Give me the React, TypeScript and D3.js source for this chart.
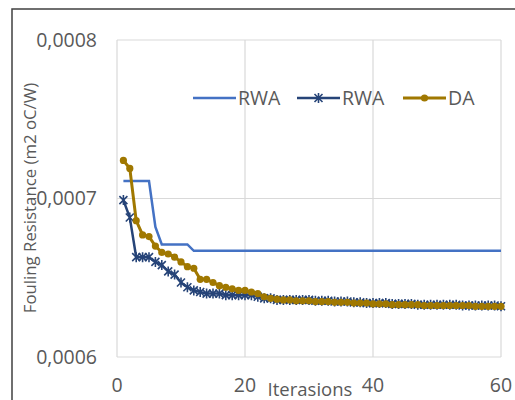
import React, { useEffect, useRef } from 'react';
import * as d3 from 'd3';

// iterations 1..60
const iterations = d3.range(1, 61);

// fouling resistance values, in units of 1e-4 m2 oC/W
const rwaStep = [
  7.11, 7.11, 7.11, 7.11, 7.11, 6.82, 6.71, 6.71, 6.71, 6.71,
  6.71, 6.67, 6.67, 6.67, 6.67, 6.67, 6.67, 6.67, 6.67, 6.67,
  6.67, 6.67, 6.67, 6.67, 6.67, 6.67, 6.67, 6.67, 6.67, 6.67,
  6.67, 6.67, 6.67, 6.67, 6.67, 6.67, 6.67, 6.67, 6.67, 6.67,
  6.67, 6.67, 6.67, 6.67, 6.67, 6.67, 6.67, 6.67, 6.67, 6.67,
  6.67, 6.67, 6.67, 6.67, 6.67, 6.67, 6.67, 6.67, 6.67, 6.67,
];

const rwaStar = [
  6.99, 6.88, 6.63, 6.63, 6.63, 6.60, 6.58, 6.54, 6.52, 6.47,
  6.44, 6.42, 6.41, 6.40, 6.40, 6.40, 6.39, 6.39, 6.39, 6.39,
  6.39, 6.38, 6.37, 6.37, 6.36, 6.36, 6.36, 6.36, 6.36, 6.36,
  6.355, 6.355, 6.355, 6.35, 6.35, 6.35, 6.345, 6.345, 6.34, 6.34,
  6.34, 6.34, 6.335, 6.335, 6.335, 6.335, 6.33, 6.33, 6.33, 6.33,
  6.33, 6.33, 6.33, 6.325, 6.325, 6.325, 6.325, 6.325, 6.325, 6.32,
];

const da = [
  7.24, 7.19, 6.86, 6.77, 6.76, 6.70, 6.66, 6.65, 6.63, 6.60,
  6.57, 6.56, 6.49, 6.49, 6.47, 6.45, 6.44, 6.43, 6.42, 6.42,
  6.41, 6.40, 6.38, 6.37, 6.365, 6.36, 6.36, 6.355, 6.355, 6.355,
  6.35, 6.35, 6.35, 6.345, 6.345, 6.345, 6.34, 6.34, 6.34, 6.335,
  6.335, 6.335, 6.33, 6.33, 6.33, 6.33, 6.33, 6.325, 6.325, 6.325,
  6.325, 6.325, 6.325, 6.325, 6.325, 6.32, 6.32, 6.32, 6.32, 6.32,
];

const xTicks = [0, 20, 40, 60];
const yTicks = [6, 7, 8];
const legendLabels = ['RWA', 'RWA', 'DA'];

const FONT = '"Open Sans", sans-serif';
const TEXT = '#595959';

export default function App() {
  const ref = useRef<SVGSVGElement>(null);

  useEffect(() => {
    const svg = d3.select(ref.current);
    svg.selectAll('*').remove();

    const x = d3.scaleLinear().domain([0, 60]).range([117, 501]);
    const y = d3.scaleLinear().domain([6, 8]).range([357, 40]);

    // chart frame (cropped on the right and bottom)
    svg.append('rect')
      .attr('x', 12).attr('y', 9)
      .attr('width', 540).attr('height', 420)
      .attr('fill', 'white')
      .attr('stroke', '#404040')
      .attr('stroke-width', 1.5);

    // gridlines
    const grid = svg.append('g').attr('stroke', '#d9d9d9').attr('stroke-width', 1.2);
    grid.selectAll('.h').data(yTicks).join('line')
      .attr('x1', x(0)).attr('x2', x(60))
      .attr('y1', d => y(d)).attr('y2', d => y(d));
    grid.selectAll('.v').data(xTicks).join('line')
      .attr('x1', d => x(d)).attr('x2', d => x(d))
      .attr('y1', y(6)).attr('y2', y(8));

    // tick labels
    svg.append('g')
      .style('font-family', FONT).style('font-size', '19.5px').attr('fill', TEXT)
      .selectAll('text').data(yTicks).join('text')
      .attr('x', 97).attr('y', d => y(d))
      .attr('dy', '0.35em')
      .attr('text-anchor', 'end')
      .text(d => '0,000' + d);

    svg.append('g')
      .style('font-family', FONT).style('font-size', '19.5px').attr('fill', TEXT)
      .selectAll('text').data(xTicks).join('text')
      .attr('x', d => x(d)).attr('y', 385)
      .attr('dy', '0.35em')
      .attr('text-anchor', 'middle')
      .text(d => d);

    // axis titles
    svg.append('text')
      .attr('x', 310).attr('y', 396)
      .attr('text-anchor', 'middle')
      .style('font-family', FONT).style('font-size', '18.5px').attr('fill', TEXT)
      .text('Iterasions');

    svg.append('text')
      .attr('transform', 'translate(30,198) rotate(-90)')
      .attr('dy', '0.35em')
      .attr('text-anchor', 'middle')
      .style('font-family', FONT).style('font-size', '16.8px').attr('fill', TEXT)
      .text('Fouling Resistance (m2 oC/W)');

    const line = d3.line<number>()
      .x((_, i) => x(iterations[i]))
      .y(d => y(d));

    const star = 'M-4,-4L4,4M-4,4L4,-4M0,-5L0,5';

    // series
    svg.append('path').datum(rwaStep)
      .attr('d', line).attr('fill', 'none')
      .attr('stroke', '#4472C4').attr('stroke-width', 2.5);

    svg.append('path').datum(rwaStar)
      .attr('d', line).attr('fill', 'none')
      .attr('stroke', '#264478').attr('stroke-width', 2.5);
    svg.append('g').selectAll('path').data(rwaStar).join('path')
      .attr('transform', (d, i) => `translate(${x(iterations[i])},${y(d)})`)
      .attr('d', star).attr('fill', 'none')
      .attr('stroke', '#264478').attr('stroke-width', 1.6);

    svg.append('path').datum(da)
      .attr('d', line).attr('fill', 'none')
      .attr('stroke', '#A07800').attr('stroke-width', 3);
    svg.append('g').selectAll('circle').data(da).join('circle')
      .attr('cx', (d, i) => x(iterations[i])).attr('cy', d => y(d))
      .attr('r', 3.6).attr('fill', '#A07800');

    // legend
    const legendX = [193, 297, 403];
    const legendColors = ['#4472C4', '#264478', '#A07800'];
    const lg = svg.append('g');
    legendLabels.forEach((label, i) => {
      const lx = legendX[i];
      lg.append('line')
        .attr('x1', lx).attr('x2', lx + 43).attr('y1', 98).attr('y2', 98)
        .attr('stroke', legendColors[i]).attr('stroke-width', i === 2 ? 3 : 2.5);
      if (i === 1) {
        lg.append('path').attr('transform', `translate(${lx + 21.5},98)`)
          .attr('d', star).attr('fill', 'none')
          .attr('stroke', legendColors[i]).attr('stroke-width', 1.6);
      }
      if (i === 2) {
        lg.append('circle').attr('cx', lx + 21.5).attr('cy', 98).attr('r', 3.6)
          .attr('fill', legendColors[i]);
      }
      lg.append('text')
        .attr('x', lx + 45).attr('y', 98).attr('dy', '0.35em')
        .style('font-family', FONT).style('font-size', '19.5px').attr('fill', TEXT)
        .text(label);
    });
  }, []);

  return (
    <div style={{ position: 'absolute', left: 0, top: 0 }}>
      <svg ref={ref} width={515} height={400} style={{ display: 'block' }} />
    </div>
  );
}
